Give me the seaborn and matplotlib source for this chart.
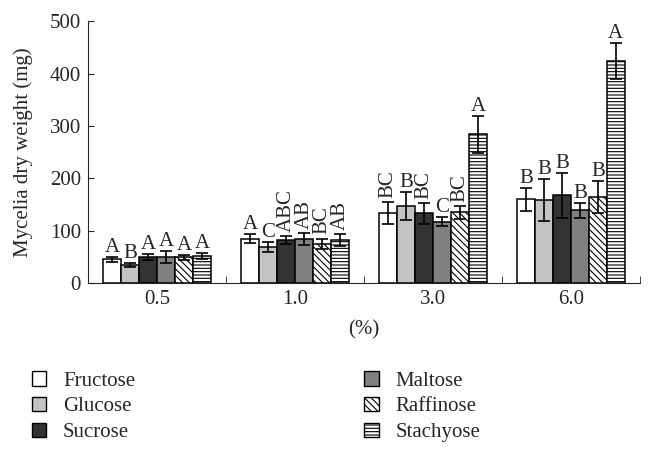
import numpy as np
import pandas as pd
import matplotlib
matplotlib.use("Agg")
import matplotlib.pyplot as plt
import seaborn as sns
from matplotlib.patches import Patch
from matplotlib.ticker import FixedLocator

concentrations = ["0.5", "1.0", "3.0", "6.0"]
sugars = ["Fructose", "Glucose", "Sucrose", "Maltose", "Raffinose", "Stachyose"]

# mean dry weight (mg), one list per sugar, in order of concentrations
fructose = [45, 85, 133, 160]
glucose = [35, 69, 147, 158]
sucrose = [50, 82, 133, 168]
maltose = [50, 84, 117, 139]
raffinose = [49, 75, 135, 164]
stachyose = [51, 82, 284, 424]

fructose_err = [5, 9, 21, 22]
glucose_err = [4, 10, 27, 40]
sucrose_err = [6, 8, 20, 43]
maltose_err = [12, 12, 9, 14]
raffinose_err = [5, 10, 12, 31]
stachyose_err = [6, 11, 35, 35]

fructose_sig = ["A", "A", "BC", "B"]
glucose_sig = ["B", "C", "B", "B"]
sucrose_sig = ["A", "ABC", "BC", "B"]
maltose_sig = ["A", "AB", "C", "B"]
raffinose_sig = ["A", "BC", "BC", "B"]
stachyose_sig = ["A", "AB", "A", "A"]

means = [fructose, glucose, sucrose, maltose, raffinose, stachyose]
errs = [fructose_err, glucose_err, sucrose_err, maltose_err, raffinose_err, stachyose_err]
sigs = [fructose_sig, glucose_sig, sucrose_sig, maltose_sig, raffinose_sig, stachyose_sig]

colors = ["white", "#c4c4c4", "#333333", "#808080", "white", "white"]
hatches = [None, None, None, None, "\\\\\\\\\\", "-----"]

rows = []
for s, vals in zip(sugars, means):
    for c, v in zip(concentrations, vals):
        rows.append({"conc": c, "sugar": s, "weight": v})
df = pd.DataFrame(rows)

sns.set_style("ticks")
plt.rcParams["font.family"] = ["Liberation Serif", "DejaVu Serif"]
plt.rcParams["hatch.linewidth"] = 0.8
fs = 15

fig = plt.figure(figsize=(6.54, 4.61), dpi=100)
ax = fig.add_axes([0.1346, 0.386, 0.844, 0.568])

sns.barplot(data=df, x="conc", y="weight", hue="sugar", order=concentrations,
            hue_order=sugars, palette=colors, width=0.78, errorbar=None,
            edgecolor="black", linewidth=1.1, legend=False, ax=ax)

bar_conts = list(ax.containers)
for i, cont in enumerate(bar_conts):
    for j, bar in enumerate(cont.patches):
        bar.set_facecolor(colors[i])
        if hatches[i]:
            bar.set_hatch(hatches[i])
        xc = bar.get_x() + bar.get_width() / 2
        top = means[i][j] + errs[i][j]
        ax.errorbar(xc, means[i][j], yerr=errs[i][j], color="black",
                    capsize=4, elinewidth=1.2, capthick=1.2, fmt="none")
        lab = sigs[i][j]
        if len(lab) > 1:
            ax.text(xc, top + 8, lab, rotation=90, ha="center", va="bottom", fontsize=fs)
        else:
            ax.text(xc, top, lab, ha="center", va="bottom", fontsize=fs)

ax.set_ylim(0, 500)
ax.set_xlim(-0.5, 3.5)
ax.set_yticks([0, 100, 200, 300, 400, 500])
ax.xaxis.set_minor_locator(FixedLocator([0.5, 1.5, 2.5, 3.5]))
ax.tick_params(axis="x", which="major", length=0, labelsize=fs, pad=5)
ax.tick_params(axis="x", which="minor", direction="in", length=5)
ax.tick_params(axis="y", direction="in", length=4, labelsize=fs, pad=5)
ax.set_xlabel("(%)", fontsize=fs, labelpad=8)
ax.set_ylabel("Mycelia dry weight (mg)", fontsize=fs, labelpad=12)
sns.despine(ax=ax)

handles = [Patch(facecolor=colors[i], edgecolor="black", hatch=hatches[i], label=sugars[i])
           for i in range(6)]
fig.legend(handles=handles, ncol=2, loc="upper left", bbox_to_anchor=(0.02, 0.236),
           frameon=False, fontsize=fs, handlelength=0.7, handleheight=0.7,
           columnspacing=11.0, labelspacing=0.3, handletextpad=0.8)

fig.savefig("out.png", dpi=100)
